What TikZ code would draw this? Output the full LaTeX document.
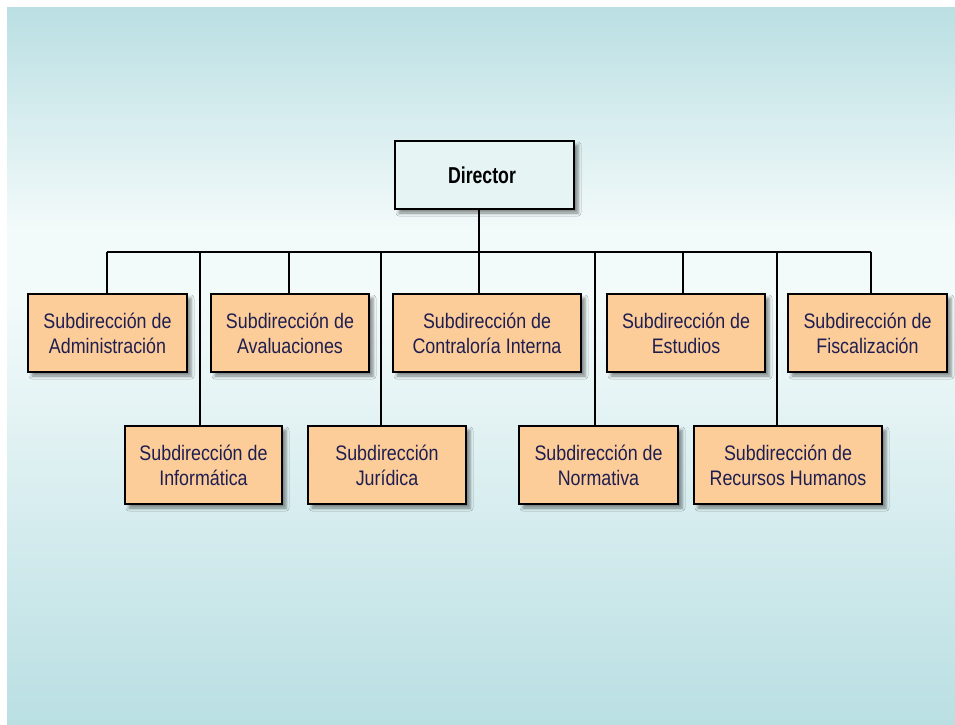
\documentclass[tikz,border=0pt]{standalone}
\usepackage{fontspec}
\newfontfamily\nfont[FakeStretch=0.85]{Liberation Sans}
\newfontfamily\dfont[FakeStretch=0.77]{Liberation Sans}
\usetikzlibrary{shadows.blur}
\definecolor{bgA}{RGB}{186,223,227}
\definecolor{bgM}{RGB}{243,250,250}
\definecolor{peach}{RGB}{252,204,153}
\definecolor{dirfill}{RGB}{230,244,244}
\definecolor{txt}{RGB}{30,30,80}
\begin{document}
\begin{tikzpicture}[x=1pt,y=-1pt,
  shad/.style={blur shadow={shadow xshift=4pt, shadow yshift=-4pt, shadow blur radius=3pt, shadow opacity=45}},
  box/.style={draw=black, line width=1.3pt, fill=peach, minimum height=78pt, inner sep=0pt,
    align=center, text=txt, font=\nfont\fontsize{21}{25}\selectfont, shad},
  dirbox/.style={draw=black, line width=1.3pt, fill=dirfill, minimum height=68pt, minimum width=179pt,
    inner sep=0pt, font=\dfont\bfseries\fontsize{23}{27}\selectfont, text=black, shad},
  conn/.style={line width=1.3pt, draw=black}]
\useasboundingbox (0,0) rectangle (955,724);
\fill[white] (0,0) rectangle (955,724);
\shade[top color=bgA, bottom color=bgM] (7,7) rectangle (955,230);
\fill[bgM] (7,229.5) rectangle (955,300.5);
\shade[top color=bgM, bottom color=bgA] (7,300) rectangle (955,724);

\node[dirbox] (dir) at (484.5,175) {\hspace*{-5pt}Director};

\node[box, minimum width=159pt] (adm) at (107.5,333) {Subdirección de\\Administración};
\node[box, minimum width=158pt] (ava) at (290,333) {Subdirección de\\Avaluaciones};
\node[box, minimum width=188pt] (con) at (487,333) {Subdirección de\\Contraloría Interna};
\node[box, minimum width=158pt] (est) at (686,333) {Subdirección de\\Estudios};
\node[box, minimum width=159pt] (fis) at (867.5,333) {Subdirección de\\Fiscalización};

\node[box, minimum width=157pt] (inf) at (203.5,465) {Subdirección de\\Informática};
\node[box, minimum width=158pt] (jur) at (387,465) {Subdirección\\Jurídica};
\node[box, minimum width=159pt] (nor) at (598.5,465) {Subdirección de\\Normativa};
\node[box, minimum width=188pt] (rh) at (788,465) {Subdirección de\\Recursos Humanos};

\coordinate (j1) at (107,252);
\coordinate (j2) at (200,252);
\coordinate (j3) at (289,252);
\coordinate (j4) at (381,252);
\coordinate (j5) at (479,252);
\coordinate (j6) at (595,252);
\coordinate (j7) at (683,252);
\coordinate (j8) at (777,252);
\coordinate (j9) at (871,252);

\draw[conn] (j5 |- dir.south) -- (j5);
\draw[conn] (j1) -- (j9);
\draw[conn] (j1) -- (j1 |- adm.north);
\draw[conn] (j2) -- (j2 |- inf.north);
\draw[conn] (j3) -- (j3 |- ava.north);
\draw[conn] (j4) -- (j4 |- jur.north);
\draw[conn] (j5) -- (j5 |- con.north);
\draw[conn] (j6) -- (j6 |- nor.north);
\draw[conn] (j7) -- (j7 |- est.north);
\draw[conn] (j8) -- (j8 |- rh.north);
\draw[conn] (j9) -- (j9 |- fis.north);
\end{tikzpicture}
\end{document}
